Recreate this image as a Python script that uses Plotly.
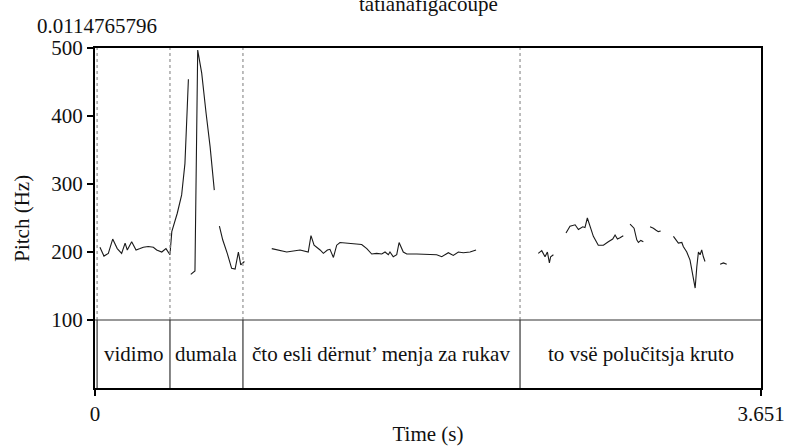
import plotly.graph_objects as go

# ---------------- data ----------------
title_text = "tatianafigacoupe"
cursor_time = 0.0114765796
cursor_label = "0.0114765796"
total_duration = 3.651

# pitch contour segments (time s, pitch Hz)
seg1_t = [0.027, 0.049, 0.073, 0.097, 0.122, 0.146, 0.165, 0.177, 0.201, 0.225, 0.247,
          0.265, 0.292, 0.320, 0.338, 0.366, 0.389, 0.411, 0.421, 0.451, 0.475, 0.493,
          0.506, 0.512]
seg1_f = [207, 194, 198, 219, 205, 198, 213, 203, 215, 203, 205,
          207, 208, 207, 203, 200, 205, 196, 230, 257, 284, 330,
          414, 454]
seg2_t = [0.525, 0.548, 0.563, 0.585, 0.609, 0.631, 0.654]
seg2_f = [167, 172, 497, 463, 404, 355, 291]
seg3_t = [0.682, 0.700, 0.725, 0.749, 0.768, 0.786, 0.799, 0.819]
seg3_f = [238, 218, 198, 176, 175, 200, 181, 186]
seg4_t = [0.969, 0.996, 1.051, 1.124, 1.169, 1.184, 1.201, 1.234, 1.252, 1.274, 1.288,
          1.307, 1.325, 1.343, 1.398, 1.462, 1.490, 1.517, 1.544, 1.572, 1.590, 1.608,
          1.617, 1.635, 1.654, 1.667, 1.690, 1.709, 1.764, 1.819, 1.873, 1.901, 1.937,
          1.964, 1.992, 2.019, 2.056, 2.089]
seg4_f = [205, 203, 200, 203, 200, 224, 210, 203, 198, 203, 204,
          192, 210, 214, 213, 211, 205, 197, 198, 197, 200, 196,
          200, 193, 196, 214, 200, 197, 197, 197, 196, 193, 199,
          195, 200, 199, 200, 203]
seg5_t = [2.430, 2.449, 2.467, 2.480, 2.491, 2.498, 2.513]
seg5_f = [198, 202, 193, 200, 184, 193, 196]
seg6_t = [2.582, 2.604, 2.632, 2.650, 2.674, 2.686, 2.699, 2.714, 2.732, 2.759, 2.787,
          2.814, 2.838, 2.851, 2.864, 2.878, 2.896]
seg6_f = [228, 238, 240, 233, 237, 236, 250, 237, 223, 210, 210,
          215, 219, 225, 219, 221, 224]
seg7_t = [2.933, 2.955, 2.970, 2.979, 2.992, 3.006]
seg7_f = [241, 235, 218, 214, 217, 215]
seg8_t = [3.043, 3.061, 3.076, 3.088, 3.101]
seg8_f = [237, 235, 232, 230, 231]
seg9_t = [3.171, 3.198, 3.217, 3.225, 3.244, 3.262, 3.277, 3.290, 3.299, 3.308, 3.317,
          3.326, 3.335, 3.344]
seg9_f = [223, 213, 214, 208, 200, 188, 166, 147, 178, 200, 196,
          203, 193, 186]
seg10_t = [3.427, 3.445, 3.463]
seg10_f = [182, 184, 182]

segments_t = [seg1_t, seg2_t, seg3_t, seg4_t, seg5_t, seg6_t, seg7_t, seg8_t, seg9_t, seg10_t]
segments_f = [seg1_f, seg2_f, seg3_f, seg4_f, seg5_f, seg6_f, seg7_f, seg8_f, seg9_f, seg10_f]

# text tier
boundaries = [0.0115, 0.411, 0.811, 2.330]
interval_starts = [0.0115, 0.411, 0.811, 2.330]
interval_ends = [0.411, 0.811, 2.330, 3.651]
interval_labels = ["vidimo", "dumala", "čto esli dërnut’ menja za rukav", "to vsë polučitsja kruto"]

pitch_ticks = [100, 200, 300, 400, 500]
pitch_min, pitch_max = 100, 500
tier_floor = 0
tier_label_y = 50

# ---------------- figure ----------------
FONT = "Liberation Serif"
FS = 21
fig = go.Figure()

for ts, fs in zip(segments_t, segments_f):
    fig.add_trace(go.Scatter(x=ts, y=fs, mode="lines",
                             line=dict(color="#1a1a1a", width=1.1),
                             hoverinfo="skip", showlegend=False))

shapes = []
for b in boundaries:
    shapes.append(dict(type="line", xref="x", yref="y", x0=b, x1=b,
                       y0=pitch_min, y1=pitch_max,
                       line=dict(color="#9a9a9a", width=1.3, dash="dot")))
    shapes.append(dict(type="line", xref="x", yref="y", x0=b, x1=b,
                       y0=tier_floor, y1=pitch_min,
                       line=dict(color="#444444", width=1.3)))
# separator between pitch area and tier
shapes.append(dict(type="line", xref="x", yref="y", x0=0, x1=total_duration,
                   y0=pitch_min, y1=pitch_min, line=dict(color="#333333", width=1.2)))

annotations = []
for s, e, lab in zip(interval_starts, interval_ends, interval_labels):
    annotations.append(dict(x=(s + e) / 2, y=tier_label_y, xref="x", yref="y",
                            text=lab, showarrow=False,
                            font=dict(family=FONT, size=FS, color="#111111")))
annotations.append(dict(x=0.5, y=1.13, xref="paper", yref="paper", text=title_text,
                        showarrow=False, yanchor="middle",
                        font=dict(family=FONT, size=FS, color="#111111")))
annotations.append(dict(x=cursor_time, y=1.065, xref="x", yref="paper", text=cursor_label,
                        showarrow=False, yanchor="middle",
                        font=dict(family=FONT, size=FS, color="#111111")))
annotations.append(dict(x=-0.11, y=0.5, xref="paper", yref="paper", text="Pitch (Hz)",
                        showarrow=False, textangle=-90, xanchor="center", yanchor="middle",
                        font=dict(family=FONT, size=FS, color="#111111")))

fig.update_layout(
    width=787, height=446,
    margin=dict(l=95, r=26, t=48, b=58),
    paper_bgcolor="white", plot_bgcolor="white",
    font=dict(family=FONT, size=FS, color="#111111"),
    shapes=shapes, annotations=annotations,
    xaxis=dict(range=[0, total_duration], tickvals=[0, total_duration],
               ticktext=["0", "3.651"], ticks="outside", ticklen=6, tickwidth=1.5,
               tickcolor="black", showline=True, linecolor="black", linewidth=2,
               mirror=True, showgrid=False, zeroline=False, automargin=False,
               tickfont=dict(family=FONT, size=FS),
               title=dict(text="Time (s)", standoff=4, font=dict(family=FONT, size=FS))),
    yaxis=dict(range=[tier_floor, pitch_max], tickvals=pitch_ticks,
               ticks="outside", ticklen=6, tickwidth=1.5, tickcolor="black",
               showline=True, linecolor="black", linewidth=2, mirror=True,
               showgrid=False, zeroline=False, automargin=False,
               tickfont=dict(family=FONT, size=FS)),
)

fig.write_html("out.html", config={"displayModeBar": False},
               post_script="document.body.style.margin='0px';")
